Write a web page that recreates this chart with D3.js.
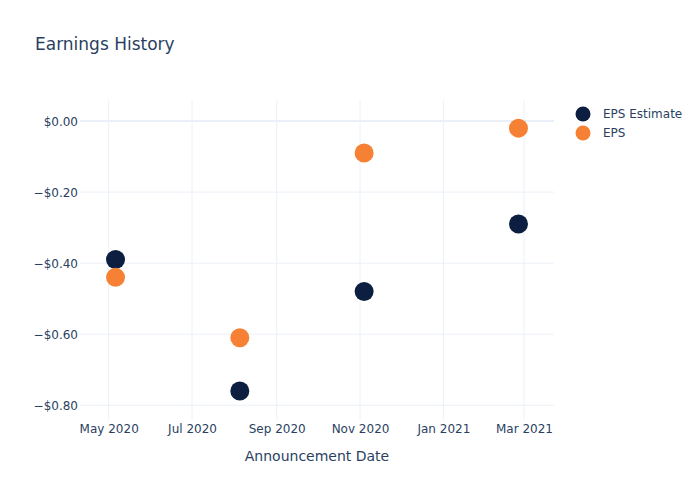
<!DOCTYPE html>
<html>
<head>
<meta charset="utf-8">
<script src="https://cdn.jsdelivr.net/npm/d3@7"></script>
<style>
  body { margin: 0; background: #fff; }
  text { font-family: "DejaVu Sans", sans-serif; fill: #2a3f5f; }
</style>
</head>
<body>
<div id="chart-area"></div>
<script>
// data
var dates = ["2020-05-06", "2020-08-05", "2020-11-04", "2021-02-25"];
var epsEstimate = [-0.39, -0.76, -0.48, -0.29];
var epsActual = [-0.44, -0.61, -0.09, -0.02];
var seriesNames = ["EPS Estimate", "EPS"];
var seriesColors = ["#0c1f40", "#f68135"];
var yTicks = [0, -0.2, -0.4, -0.6, -0.8];

var parse = d3.timeParse("%Y-%m-%d");
var width = 700, height = 500;
var plotLeft = 80, plotRight = 554, plotTop = 100, plotBottom = 420;

var svg = d3.select("#chart-area").append("svg")
    .attr("width", width)
    .attr("height", height);

var x = d3.scaleTime()
    .domain([parse("2020-04-10"), parse("2021-03-23")])
    .range([plotLeft, plotRight]);

var y = d3.scaleLinear()
    .domain([-0.8415, 0.0592])
    .range([plotBottom, plotTop]);

// grid
var xTicks = d3.timeMonth.every(2).range(parse("2020-05-01"), parse("2021-04-01"));
svg.append("g").selectAll("line")
    .data(xTicks)
    .enter().append("line")
    .attr("x1", d => x(d)).attr("x2", d => x(d))
    .attr("y1", plotTop).attr("y2", plotBottom)
    .attr("stroke", "#ebf0f8").attr("stroke-width", 1);

svg.append("g").selectAll("line")
    .data(yTicks)
    .enter().append("line")
    .attr("x1", plotLeft).attr("x2", plotRight)
    .attr("y1", d => y(d)).attr("y2", d => y(d))
    .attr("stroke", "#ebf0f8")
    .attr("stroke-width", d => d === 0 ? 2 : 1);

// axes
var fmt = d => (d < 0 ? "\u2212" : "") + "$" + Math.abs(d).toFixed(2);
var yAxis = d3.axisLeft(y).tickValues(yTicks).tickFormat(fmt).tickSize(0).tickPadding(0);
var yG = svg.append("g").attr("transform", "translate(" + (plotLeft - 2) + ",0)").call(yAxis);
yG.select(".domain").remove();
yG.selectAll("text").style("font-size", "12px").attr("fill", "#2a3f5f")
    .style("font-family", "'DejaVu Sans', sans-serif").attr("dy", "0.35em");

var xAxis = d3.axisBottom(x).tickValues(xTicks).tickFormat(d3.timeFormat("%b %Y")).tickSize(0).tickPadding(0);
var xG = svg.append("g").attr("transform", "translate(0," + (plotBottom + 3) + ")").call(xAxis);
xG.select(".domain").remove();
xG.selectAll("text").style("font-size", "12px").attr("fill", "#2a3f5f")
    .style("font-family", "'DejaVu Sans', sans-serif").attr("dy", "0.8em");

svg.append("text")
    .attr("x", (plotLeft + plotRight) / 2).attr("y", 461)
    .attr("text-anchor", "middle")
    .style("font-size", "14px")
    .text("Announcement Date");

svg.append("text")
    .attr("x", 35).attr("y", 50)
    .style("font-size", "17px")
    .text("Earnings History");

// points
var series = [epsEstimate, epsActual];
series.forEach((vals, s) => {
    svg.append("g").selectAll("circle")
        .data(vals)
        .enter().append("circle")
        .attr("cx", (d, i) => x(parse(dates[i])))
        .attr("cy", d => y(d))
        .attr("r", 9.5)
        .attr("fill", seriesColors[s]);
});

// legend
var leg = svg.append("g").selectAll("g")
    .data(seriesNames)
    .enter().append("g")
    .attr("transform", (d, i) => "translate(583," + (114 + i * 19) + ")");
leg.append("circle").attr("r", 7.5).attr("fill", (d, i) => seriesColors[i]);
leg.append("text").attr("x", 20).attr("dy", "0.35em")
    .style("font-size", "12px").text(d => d);
</script>
</body>
</html>
